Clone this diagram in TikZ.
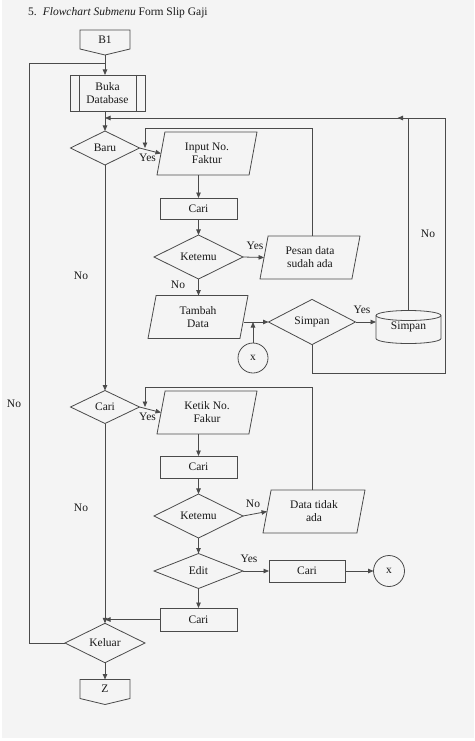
\documentclass[tikz,border=0pt]{standalone}
\usepackage{fontspec}
\setmainfont{Liberation Serif}
\usetikzlibrary{shapes.geometric,arrows.meta,calc}
\definecolor{lc}{HTML}{4A4A4A}
\definecolor{bg}{HTML}{F4F4F4}
\begin{document}
\begin{tikzpicture}[x=1pt,y=-1pt,
  txt/.style={font=\fontsize{11.5}{13}\selectfont, text=black!90},
  ln/.style={draw=lc, line width=0.8pt},
  arr/.style={ln, -{Triangle[length=5.5pt,width=4.5pt]}},
  base/.style={txt, ln, inner sep=0pt, outer sep=0pt, align=center},
  procbox/.style={base, rectangle, minimum width=77pt, minimum height=21pt},
  dec/.style={base, diamond, minimum width=89pt, minimum height=35pt},
  io/.style={base, trapezium, trapezium left angle=69, trapezium right angle=111,
    trapezium stretches body=true, minimum width=100pt, minimum height=43pt},
  conn/.style={base, circle, minimum size=30pt},
  offp/.style={txt, inner sep=0pt, outer sep=0pt, minimum width=50pt, minimum height=19pt},
  lbl/.style={txt, inner sep=0pt}
]
\useasboundingbox (0,0) rectangle (474,741);
\fill[white] (0,0) rectangle (474,741);
\fill[bg] (2,0) rectangle (474,738);

% title
\node[lbl, anchor=west] (title) at (28,13) {5.\hspace{6pt}\textit{Flowchart Submenu} Form Slip Gaji};

% start
\node[offp] (b1) at (105,39.5) {B1};
\draw[ln] (b1.north west) -- (b1.north east) -- (b1.south east) -- ($(b1.south)+(0,6)$) -- (b1.south west) -- cycle;
\coordinate (b1tip) at ($(b1.south)+(0,6)$);

\node[base, minimum width=75pt, minimum height=36pt] (buka) at (107.5,93) {Buka\\Database};
\draw[ln] ($(buka.north west)+(9,0)$) -- ($(buka.south west)+(9,0)$);
\draw[ln] ($(buka.north east)+(-9,0)$) -- ($(buka.south east)+(-9,0)$);

% section 1
\node[dec, minimum width=69pt, minimum height=34pt] (baru) at (105,148) {Baru};
\node[io] (inp) at (207,153.5) {Input No.\\Faktur};
\node[procbox] (cari1) at (198.5,208.5) {Cari};
\node[dec] (ket1) at (198.5,257) {Ketemu};
\node[io] (pesan) at (310,257.5) {Pesan data\\sudah ada};
\node[io] (tambah) at (198,317) {Tambah\\Data};
\node[dec, minimum width=87pt] (simpd) at (312,322) {Simpan};
\node[conn] (cx1) at (253,358) {x};
\node[txt, inner sep=0pt, outer sep=0pt, minimum width=65pt, minimum height=33pt] (cyl) at (408.5,327) {Simpan};
\draw[ln] ($(cyl.north)+(0,5)$) ellipse [x radius=32.5pt, y radius=5pt];
\draw[ln] ($(cyl.north west)+(0,5)$) -- ($(cyl.south west)+(0,-5)$)
  arc[start angle=180, end angle=360, x radius=32.5pt, y radius=5pt] -- ($(cyl.north east)+(0,5)$);

% section 2
\node[dec, minimum width=69pt, minimum height=33pt] (carid) at (105,407) {Cari};
\node[io] (ketik) at (207,412.5) {Ketik No.\\Fakur};
\node[procbox, minimum height=22pt] (cari2) at (198.5,467) {Cari};
\node[dec] (ket2) at (198.5,516) {Ketemu};
\node[io, minimum width=102pt] (datat) at (314,511.5) {Data tidak\\ada};
\node[dec] (edit) at (198.5,571) {Edit};
\node[procbox, minimum width=76pt, minimum height=22pt] (cari3) at (307,571) {Cari};
\node[conn, minimum size=31pt] (cx2) at (389,571) {x};
\node[procbox, minimum height=23pt] (cari4) at (198.5,619.5) {Cari};
\node[dec, minimum width=80pt, minimum height=34pt] (keluar) at (105,643) {Keluar};
\node[offp] (z) at (105,689) {Z};
\draw[ln] (z.north west) -- (z.north east) -- (z.south east) -- ($(z.south)+(0,6)$) -- (z.south west) -- cycle;

% helper coordinates
\coordinate (top1) at (445,118);
\coordinate (lp1) at (145,128);
\coordinate (lp2) at (145,387);
\coordinate (lft) at (29,63);
\coordinate (bot1) at (445,373);

% connectors
\draw[arr] (b1tip) -- (b1tip |- buka.north);
\draw[ln] (keluar.west) -| (lft) -- (lft -| b1tip);
\draw[arr] (buka.south -| baru.north) -- (baru.north);
\draw[arr] (baru.east) -- (inp.left side);
\draw[arr] (pesan.top side -| simpd.north) |- (lp1) -- (lp1 |- baru.east);
\draw[arr] (cari1.north |- inp.bottom side) -- (cari1.north);
\draw[arr] (cari1.south) -- (ket1.north);
\draw[arr] (ket1.east) -- (pesan.left side);
\draw[arr] (ket1.south) -- (ket1.south |- tambah.top side);
\draw[arr] (tambah.right side |- simpd.west) -- (simpd.west);
\draw[arr] (cx1.north) -- (cx1.north |- simpd.west);
\draw[arr] (simpd.east) -- (simpd.east -| cyl.west);
\draw[arr] (cyl.north) |- (baru.north |- top1);
\draw[ln] (simpd.south) |- (bot1) -- (top1);
\draw[arr] (top1) -- ($(cyl.north |- top1)+(-11,0)$);
\draw[arr] (baru.south) -- (carid.north);

\draw[arr] (carid.east) -- (ketik.left side);
\draw[arr] (datat.top side -| simpd.north) |- (lp2) -- (lp2 |- carid.east);
\draw[arr] (cari2.north |- ketik.bottom side) -- (cari2.north);
\draw[arr] (cari2.south) -- (ket2.north);
\draw[arr] (ket2.east) -- (datat.left side);
\draw[arr] (ket2.south) -- (edit.north);
\draw[arr] (edit.east) -- (cari3.west);
\draw[arr] (cari3.east) -- (cx2.west);
\draw[arr] (edit.south) -- (cari4.north);
\draw[arr] (cari4.west) -- (cari4.west -| carid.south);
\draw[arr] (carid.south) -- (keluar.north);
\draw[arr] (keluar.south) -- (z.north);

% labels
\node[lbl] (l1) at (147.5,158) {Yes};
\node[lbl] (l2) at (255,246) {Yes};
\node[lbl] (l3) at (178,285) {No};
\node[lbl] (l4) at (362,310) {Yes};
\node[lbl] (l5) at (428,234) {No};
\node[lbl] (l6) at (81,276) {No};
\node[lbl] (l7) at (14,404) {No};
\node[lbl] (l8) at (147.5,417) {Yes};
\node[lbl] (l9) at (81,508) {No};
\node[lbl] (l10) at (253,504) {No};
\node[lbl] (l11) at (249,559) {Yes};
\end{tikzpicture}
\end{document}
